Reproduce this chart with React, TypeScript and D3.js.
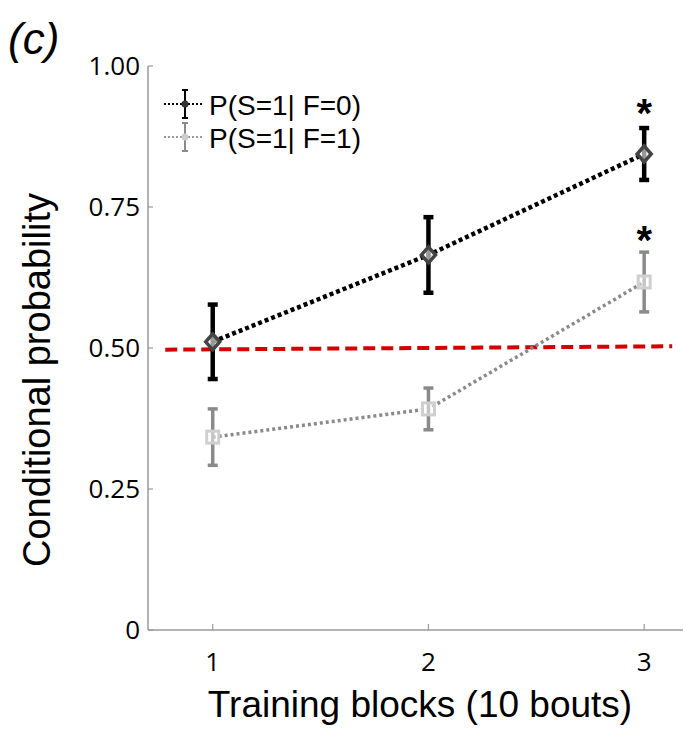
import React, { useRef, useEffect } from "react";
import { select, scaleLinear, line } from "d3";

// training blocks
const blocks = [1, 2, 3];
// P(S=1 | F=0)
const meanF0 = [0.511, 0.665, 0.844];
const errF0 = [0.066, 0.067, 0.046];
// P(S=1 | F=1)
const meanF1 = [0.342, 0.392, 0.617];
const errF1 = [0.05, 0.037, 0.053];
// significance marks
const starBlocks = [3, 3];
const starValues = [0.93, 0.705];
// chance line end points
const chanceX = [0.78, 3.13];
const chanceY = [0.497, 0.503];
const yTicks = [0, 0.25, 0.5, 0.75, 1];
const yTickLabels = ["0", "0.25", "0.50", "0.75", "1.00"];
const legendLabels = ["P(S=1| F=0)", "P(S=1| F=1)"];

function App() {
  const svgRef = useRef(null);

  useEffect(() => {
    document.body.style.margin = "0";
    const svg = select(svgRef.current);
    svg.selectAll("*").remove();

    const x = scaleLinear().domain([0.7, 3.18]).range([148, 683]);
    const y = scaleLinear().domain([0, 1]).range([630, 66]);
    const axisColor = "#9a9a9a";

    // axes
    svg.append("line").attr("x1", x(0.7)).attr("x2", x(0.7))
      .attr("y1", y(1)).attr("y2", y(0))
      .attr("stroke", axisColor).attr("stroke-width", 1.5);
    svg.append("line").attr("x1", x(0.7)).attr("x2", x(3.18))
      .attr("y1", y(0)).attr("y2", y(0))
      .attr("stroke", axisColor).attr("stroke-width", 1.5);

    svg.selectAll(".ytick").data(yTicks).join("line")
      .attr("class", "ytick")
      .attr("x1", x(0.7)).attr("x2", x(0.7) + 5)
      .attr("y1", d => y(d)).attr("y2", d => y(d))
      .attr("stroke", axisColor).attr("stroke-width", 1.2);
    svg.selectAll(".ylab").data(yTicks).join("text")
      .attr("class", "ylab")
      .attr("x", 140).attr("y", d => y(d) + 9)
      .attr("text-anchor", "end")
      .attr("font-family", "Open Sans").attr("font-size", 26)
      .text((d, i) => yTickLabels[i]);

    svg.selectAll(".xtick").data(blocks).join("line")
      .attr("class", "xtick")
      .attr("x1", d => x(d)).attr("x2", d => x(d))
      .attr("y1", y(0)).attr("y2", y(0) - 6)
      .attr("stroke", axisColor).attr("stroke-width", 1.2);
    svg.selectAll(".xlab").data(blocks).join("text")
      .attr("class", "xlab")
      .attr("x", d => x(d)).attr("y", 671)
      .attr("text-anchor", "middle")
      .attr("font-family", "Open Sans").attr("font-size", 26)
      .text(d => d);

    // titles
    svg.append("text").attr("x", 420).attr("y", 717)
      .attr("text-anchor", "middle")
      .attr("font-family", "Liberation Sans").attr("font-size", 37)
      .text("Training blocks (10 bouts)");
    svg.append("text")
      .attr("transform", `translate(50,${y(0.5) + 32}) rotate(-90)`)
      .attr("text-anchor", "middle")
      .attr("font-family", "Liberation Sans").attr("font-size", 38)
      .text("Conditional probability");
    svg.append("text").attr("x", 8).attr("y", 54)
      .attr("font-family", "Liberation Sans").attr("font-size", 44)
      .attr("font-style", "italic")
      .text("(c)");

    // chance level
    svg.append("line")
      .attr("x1", x(chanceX[0])).attr("x2", x(chanceX[1]))
      .attr("y1", y(chanceY[0])).attr("y2", y(chanceY[1]))
      .attr("stroke", "#d40000").attr("stroke-width", 4)
      .attr("stroke-dasharray", "12,6");

    const series = [
      { mean: meanF1, err: errF1, line: "#8a8a8a", lw: 3.5, dash: "3,3", bar: "#8a8a8a", bw: 3.5, mark: "#cfcfcf", shape: "square" },
      { mean: meanF0, err: errF0, line: "#000", lw: 4.5, dash: "4,3", bar: "#000", bw: 4.5, mark: "#444", shape: "diamond" },
    ];

    const path = line<number>().x((d, i) => x(blocks[i])).y(d => y(d));

    series.forEach(s => {
      svg.append("path").attr("d", path(s.mean))
        .attr("fill", "none").attr("stroke", s.line)
        .attr("stroke-width", s.lw).attr("stroke-dasharray", s.dash);

      const g = svg.append("g");
      g.selectAll(".eb").data(s.mean).join("line")
        .attr("x1", (d, i) => x(blocks[i])).attr("x2", (d, i) => x(blocks[i]))
        .attr("y1", (d, i) => y(d + s.err[i])).attr("y2", (d, i) => y(d - s.err[i]))
        .attr("stroke", s.bar).attr("stroke-width", s.bw);
      [1, -1].forEach(sign => {
        g.selectAll(".cap" + sign).data(s.mean).join("line")
          .attr("x1", (d, i) => x(blocks[i]) - 5).attr("x2", (d, i) => x(blocks[i]) + 5)
          .attr("y1", (d, i) => y(d + sign * s.err[i])).attr("y2", (d, i) => y(d + sign * s.err[i]))
          .attr("stroke", s.bar).attr("stroke-width", s.bw);
      });

      if (s.shape === "diamond") {
        g.selectAll(".mk").data(s.mean).join("path")
          .attr("d", (d, i) => {
            const cx = x(blocks[i]), cy = y(d), r = 8;
            return `M${cx},${cy - r}L${cx + r - 1},${cy}L${cx},${cy + r}L${cx - r + 1},${cy}Z`;
          })
          .attr("fill", "#fff").attr("fill-opacity", 0.6)
          .attr("stroke", s.mark).attr("stroke-width", 3.5);
      } else {
        g.selectAll(".mk").data(s.mean).join("rect")
          .attr("x", (d, i) => x(blocks[i]) - 6).attr("y", d => y(d) - 6)
          .attr("width", 12).attr("height", 12)
          .attr("fill", "#fff").attr("fill-opacity", 0.5)
          .attr("stroke", s.mark).attr("stroke-width", 3);
      }
    });

    // asterisks
    svg.selectAll(".star").data(starValues).join("text")
      .attr("class", "star")
      .attr("x", (d, i) => x(starBlocks[i])).attr("y", d => y(d) + 22)
      .attr("text-anchor", "middle")
      .attr("font-family", "Liberation Sans").attr("font-size", 40)
      .attr("font-weight", "bold")
      .text("*");

    // legend
    const legend = svg.append("g");
    const legendStyles = [
      { line: "#000", bar: "#000", dot: "#333", y: 104 },
      { line: "#999", bar: "#8a8a8a", dot: "#ccc", y: 137 },
    ];
    legendStyles.forEach((s, i) => {
      legend.append("line").attr("x1", 164).attr("x2", 204)
        .attr("y1", s.y).attr("y2", s.y)
        .attr("stroke", s.line).attr("stroke-width", 2).attr("stroke-dasharray", "2,2");
      legend.append("line").attr("x1", 185).attr("x2", 185)
        .attr("y1", s.y - 14).attr("y2", s.y + 14)
        .attr("stroke", s.bar).attr("stroke-width", 2);
      [-14, 14].forEach(o => legend.append("line")
        .attr("x1", 182).attr("x2", 188).attr("y1", s.y + o).attr("y2", s.y + o)
        .attr("stroke", s.bar).attr("stroke-width", 2));
      legend.append("circle").attr("cx", 185).attr("cy", s.y).attr("r", 3.5)
        .attr("fill", s.dot);
      legend.append("text").attr("x", 209).attr("y", s.y + 11)
        .attr("font-family", "Liberation Sans").attr("font-size", 28)
        .text(legendLabels[i]);
    });
  }, []);

  return (
    <div>
      <svg ref={svgRef} width={686} height={730} style={{ display: "block", background: "#fff" }}></svg>
    </div>
  );
}

export default App;
